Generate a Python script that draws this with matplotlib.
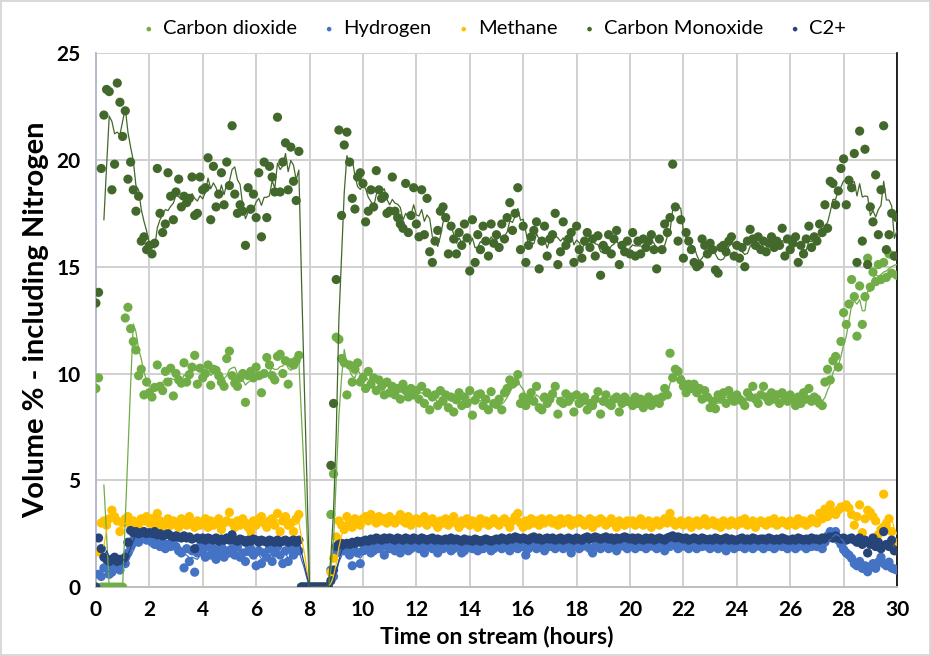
import numpy as np
import pandas as pd
import matplotlib
matplotlib.use("Agg")
import matplotlib.pyplot as plt

# sample times (hours), one reading every 0.1 h
hours = np.arange(301) / 10

# Volume % per gas, one row per hour of stream time
carbon_dioxide = [
    9.3, 9.8, 0, 0, 0, 0, 0, 0, 0, 0,
    0, 12.6, 13.1, 12.1, 11.5, 11.1, 9.9, 10.2, 9.0, 9.6,
    9.1, 8.9, 9.35, 10.4, 9.4, 9.2, 10.1, 9.6, 10.25, 8.95,
    10.0, 9.7, 9.55, 10.5, 9.6, 9.95, 10.3, 10.85, 9.5, 10.25,
    9.8, 10.0, 10.4, 9.45, 10.2, 10.15, 9.9, 9.6, 9.4, 10.7,
    11.05, 9.9, 9.55, 9.4, 9.8, 10.0, 8.65, 9.9, 10.1, 9.8,
    10.3, 9.9, 9.1, 10.0, 10.75, 10.4, 9.9, 9.7, 10.8, 10.9,
    10.0, 10.6, 9.5, 10.5, 10.4, 10.6, 10.85, 0, 0, 0,
    0, 0, 0, 0, 0, 0, 0, 0, 3.4, 5.3,
    11.7, 11.6, 10.7, 10.5, 9.0, 10.4, 9.6, 10.2, 10.5, 9.6,
    9.8, 9.3, 10.1, 9.5, 9.8, 9.2, 9.7, 9.4, 9.0, 9.6,
    9.1, 9.4, 9.0, 9.3, 8.8, 9.5, 9.2, 8.9, 9.3, 9.0,
    9.2, 8.8, 9.4, 8.6, 9.1, 8.3, 8.9, 9.0, 8.5, 9.2,
    8.7, 9.0, 8.4, 8.9, 8.2, 8.8, 9.1, 8.5, 8.9, 8.6,
    9.2, 8.05, 8.75, 9.0, 9.05, 8.5, 8.8, 8.3, 9.15, 8.6,
    8.55, 8.8, 8.3, 9.1, 9.3, 9.7, 9.5, 9.6, 9.95, 8.6,
    8.9, 8.5, 8.8, 9.1, 8.7, 9.4, 8.4, 8.3, 8.9, 8.6,
    8.8, 9.05, 9.4, 8.1, 8.7, 8.6, 9.05, 8.7, 8.9, 8.2,
    9.0, 8.6, 8.7, 8.9, 8.3, 8.6, 8.5, 8.8, 9.15, 8.1,
    8.7, 9.0, 8.6, 8.5, 8.8, 8.9, 8.2, 8.6, 8.9, 8.7,
    8.7, 8.5, 8.9, 8.6, 8.8, 8.4, 8.6, 8.9, 8.5, 8.7,
    8.8, 8.6, 8.9, 9.3, 9.0, 10.95, 9.8, 10.2, 10.1, 9.7,
    9.4, 9.1, 9.5, 9.3, 9.5, 9.1, 9.3, 8.8, 9.2, 8.9,
    8.4, 8.7, 8.35, 9.0, 8.8, 9.1, 8.6, 9.2, 8.9, 8.7,
    9.0, 8.8, 8.7, 8.5, 9.1, 8.9, 9.4, 8.8, 8.6, 9.0,
    9.4, 8.9, 8.7, 9.1, 8.8, 9.0, 8.6, 9.1, 8.9, 8.7,
    9.0, 8.8, 8.5, 8.9, 8.6, 9.1, 8.8, 9.3, 8.7, 8.9,
    8.8, 8.6, 8.5, 9.6, 10.2, 9.7, 10.6, 10.8, 10.3, 11.5,
    12.85, 12.3, 13.25, 14.4, 13.6, 11.75, 14.1, 12.3, 13.6, 15.4,
    14.05, 14.75, 14.3, 15.1, 14.4, 15.2, 14.5, 15.6, 14.7, 15.5,
    14.6,
]

hydrogen = [
    0, 0.6, 0.5, 0.9, 0.95, 0.6, 0.7, 1.0, 1.2, 0.8,
    1.3, 1.1, 1.6, 1.9, 2.2, 2.2, 2.1, 2.3, 2.4, 2.2,
    2.3, 2.1, 2.0, 2.2, 1.9, 2.1, 1.8, 2.0, 1.9, 2.1,
    1.9, 1.7, 1.6, 0.9, 1.8, 1.2, 1.7, 0.7, 1.6, 1.9,
    1.7, 1.4, 1.9, 1.5, 1.8, 1.3, 1.6, 1.9, 1.4, 1.7,
    1.6, 1.8, 1.5, 1.9, 1.4, 1.6, 1.2, 1.7, 1.8, 1.5,
    1.0, 1.7, 1.1, 1.6, 1.4, 1.8, 1.2, 1.6, 1.9, 1.5,
    1.1, 1.7, 1.2, 1.8, 1.5, 1.9, 1.7, 0, 0, 0,
    0, 0, 0, 0, 0, 0, 0, 0, 0.8, 0.5,
    1.6, 1.8, 1.9, 1.7, 1.8, 1.5, 1.0, 1.7, 1.6, 1.1,
    1.7, 1.8, 1.9, 1.6, 1.7, 2.0, 1.8, 1.9, 1.5, 1.9,
    1.8, 2.0, 1.7, 1.9, 1.6, 1.9, 2.0, 1.7, 1.8, 1.9,
    2.0, 1.8, 1.9, 1.6, 1.9, 2.0, 1.8, 1.9, 1.6, 1.9,
    1.8, 2.0, 1.9, 1.7, 1.8, 2.1, 1.9, 1.6, 1.7, 2.0,
    1.9, 1.8, 2.0, 1.7, 1.9, 1.8, 2.0, 1.9, 1.7, 1.8,
    2.0, 1.9, 1.8, 2.1, 1.9, 1.7, 2.0, 1.9, 1.8, 2.0,
    1.9, 1.5, 1.8, 2.0, 1.9, 1.8, 2.0, 1.9, 1.7, 2.0,
    1.9, 2.0, 1.8, 1.9, 2.1, 1.8, 1.9, 2.0, 1.6, 1.9,
    2.0, 1.8, 1.9, 2.1, 1.9, 1.8, 1.6, 1.9, 2.0, 1.8,
    1.9, 2.0, 1.8, 1.9, 2.0, 1.7, 1.9, 2.1, 1.9, 1.8,
    2.0, 1.9, 1.8, 2.0, 1.9, 2.1, 1.8, 1.9, 2.0, 1.9,
    1.8, 2.0, 1.9, 1.7, 2.0, 1.9, 2.1, 2.0, 1.8, 1.9,
    2.0, 1.9, 1.8, 2.0, 1.9, 1.8, 2.0, 1.9, 2.1, 1.9,
    1.8, 2.0, 1.9, 1.8, 2.0, 1.9, 1.7, 2.0, 1.9, 1.8,
    2.0, 1.9, 2.1, 1.8, 1.9, 2.0, 1.8, 1.9, 2.0, 1.9,
    1.8, 2.0, 1.9, 2.0, 1.8, 1.9, 2.1, 1.9, 2.0, 1.8,
    1.9, 2.0, 1.8, 1.9, 2.0, 1.9, 1.8, 2.0, 1.9, 2.0,
    1.9, 2.0, 1.8, 2.1, 2.4, 2.6, 2.3, 2.6, 2.2, 2.0,
    1.75, 1.6, 1.5, 1.35, 1.1, 1.0, 1.2, 0.88, 1.0, 0.72,
    0.95, 1.1, 0.88, 1.17, 1.4, 1.1, 1.0, 1.17, 0.9, 0.85,
    0.8,
]

methane = [
    0, 1.65, 3.0, 3.1, 2.9, 3.2, 3.6, 3.3, 3.1, 2.6,
    3.0, 3.2, 3.3, 2.9, 3.1, 3.0, 2.8, 3.2, 3.1, 3.3,
    3.0, 3.2, 2.9, 3.45, 3.1, 2.8, 3.0, 3.2, 2.9, 3.1,
    3.0, 2.8, 3.2, 3.1, 2.9, 3.3, 3.0, 2.8, 3.1, 2.9,
    3.0, 3.2, 2.8, 3.1, 2.9, 3.0, 3.2, 2.7, 3.0, 3.1,
    3.5, 3.0, 2.8, 3.1, 2.9, 3.2, 3.0, 2.8, 2.6, 3.1,
    2.9, 3.2, 3.3, 3.0, 2.8, 3.1, 3.2, 2.9, 3.45, 2.6,
    3.1, 3.3, 2.9, 3.0, 2.6, 3.2, 3.4, 0, 0, 0,
    0, 0, 0, 0, 0, 0, 0, 0, 0.7, 1.35,
    2.35, 3.1, 2.9, 2.7, 3.3, 3.0, 2.8, 3.2, 3.0, 2.9,
    3.2, 3.3, 3.1, 3.4, 3.2, 3.0, 3.3, 3.1, 3.2, 3.0,
    3.3, 3.1, 3.0, 3.2, 3.4, 3.1, 3.0, 3.3, 2.9, 3.1,
    3.2, 3.0, 3.1, 3.3, 2.9, 3.1, 3.2, 3.0, 2.8, 3.1,
    3.0, 3.2, 2.9, 3.1, 3.3, 3.0, 2.8, 3.1, 3.0, 3.2,
    2.9, 3.1, 3.0, 2.8, 3.2, 3.0, 3.1, 2.9, 3.0, 3.2,
    3.0, 2.9, 3.1, 3.2, 3.0, 2.8, 3.1, 3.3, 3.45, 3.0,
    2.8, 3.1, 2.9, 3.2, 3.0, 3.1, 2.9, 3.2, 3.0, 3.1,
    3.2, 3.0, 3.1, 2.9, 3.2, 3.0, 3.1, 3.2, 2.9, 3.1,
    3.0, 3.2, 3.1, 2.9, 3.0, 3.2, 2.8, 3.1, 3.0, 3.2,
    3.1, 2.9, 3.0, 3.2, 3.0, 2.8, 3.1, 3.0, 2.9, 3.1,
    3.0, 3.1, 2.9, 3.0, 3.2, 2.9, 3.0, 3.1, 2.8, 3.0,
    3.1, 2.9, 3.0, 3.2, 3.0, 3.45, 3.1, 2.9, 3.0, 3.1,
    2.9, 3.0, 3.1, 2.8, 3.0, 3.1, 2.9, 3.0, 3.2, 2.9,
    3.0, 3.1, 2.9, 3.0, 2.8, 3.1, 3.0, 2.9, 3.1, 3.0,
    2.9, 3.1, 3.0, 3.2, 2.9, 3.0, 3.1, 2.8, 3.0, 3.1,
    3.0, 2.9, 3.1, 3.0, 3.2, 2.9, 3.0, 3.1, 3.0, 2.9,
    3.1, 3.0, 2.9, 3.2, 3.0, 3.1, 2.9, 3.0, 3.2, 3.1,
    3.0, 3.45, 3.2, 3.65, 3.3, 3.85, 3.5, 3.4, 3.6, 3.75,
    3.75, 3.85, 3.7, 3.4, 2.9, 3.3, 3.85, 2.55, 3.2, 3.6,
    3.5, 3.3, 3.1, 2.45, 2.7, 4.35, 2.9, 3.2, 2.6, 2.1,
    2.0,
]

carbon_monoxide = [
    13.3, 13.8, 19.6, 22.1, 23.3, 23.2, 18.6, 19.8, 23.6, 22.7,
    21.1, 22.3, 19.1, 19.9, 18.6, 17.6, 18.3, 16.2, 16.4, 15.8,
    16.0, 15.6, 16.1, 19.6, 17.5, 16.6, 17.0, 19.4, 18.3, 17.2,
    18.5, 19.1, 17.8, 18.3, 18.0, 18.2, 19.2, 17.4, 17.5, 19.2,
    18.6, 18.7, 20.1, 17.2, 19.7, 17.8, 18.4, 19.4, 17.9, 19.9,
    18.8, 21.6, 18.4, 17.5, 17.9, 17.6, 16.0, 18.7, 17.7, 18.4,
    17.3, 19.4, 16.4, 19.9, 17.3, 19.7, 19.2, 18.5, 22.0, 18.5,
    19.9, 20.8, 18.6, 20.6, 19.0, 18.1, 20.4, 0, 0, 0,
    0, 0, 0, 0, 0, 0, 0, 0, 5.7, 8.6,
    14.4, 21.4, 17.4, 20.7, 21.3, 19.9, 18.2, 17.7, 19.2, 19.4,
    18.9, 17.1, 17.6, 18.6, 17.8, 19.5, 18.6, 18.2, 18.3, 17.5,
    17.6, 19.2, 17.6, 17.3, 17.0, 16.8, 18.9, 16.6, 17.4, 18.7,
    17.0, 16.4, 18.6, 16.5, 18.2, 15.7, 15.2, 16.2, 16.7, 17.6,
    17.8, 17.3, 15.6, 16.9, 16.3, 15.6, 16.6, 16.0, 17.0, 16.35,
    14.8, 17.2, 15.2, 16.5, 15.8, 16.9, 16.2, 15.5, 17.0, 16.1,
    16.5, 15.9, 17.0, 16.3, 17.3, 18.0, 16.7, 17.5, 18.7, 15.8,
    16.9, 15.2, 16.0, 16.4, 16.7, 17.1, 14.9, 16.2, 16.9, 15.5,
    16.3, 16.5, 17.5, 15.1, 15.7, 17.1, 16.0, 16.3, 16.6, 15.2,
    16.9, 15.8, 15.4, 16.2, 16.6, 15.9, 16.3, 15.5, 16.45, 14.6,
    16.0, 15.8, 16.5, 15.6, 16.3, 16.7, 15.1, 16.0, 15.7, 16.2,
    15.6, 16.6, 15.5, 16.2, 15.6, 16.3, 15.9, 16.2, 16.5, 15.8,
    14.9, 16.3, 15.8, 17.0, 16.6, 17.3, 19.8, 17.8, 16.2, 17.2,
    15.4, 16.6, 16.2, 15.8, 15.2, 15.0, 15.1, 16.3, 16.0, 15.6,
    16.1, 15.8, 14.85, 14.7, 15.9, 16.0, 15.7, 16.2, 16.4, 15.5,
    16.0, 15.4, 15.9, 15.0, 16.2, 16.75, 16.3, 16.0, 16.4, 15.8,
    16.2, 15.7, 16.1, 16.4, 15.9, 16.2, 16.0, 16.8, 15.5, 16.3,
    15.8, 16.1, 16.4, 15.2, 16.0, 15.6, 16.3, 16.9, 15.9, 16.4,
    16.2, 17.0, 16.6, 17.9, 16.8, 19.0, 18.9, 17.9, 18.55, 19.6,
    20.05, 17.9, 19.05, 18.7, 20.3, 15.2, 21.35, 16.2, 20.5, 15.1,
    17.8, 17.1, 19.3, 16.5, 18.6, 21.6, 15.8, 16.5, 17.5, 15.5,
    17.3,
]

c2_plus = [
    0, 2.3, 1.8, 1.4, 1.3, 1.2, 1.3, 1.4, 1.2, 1.3,
    1.2, 1.4, 2.1, 2.65, 2.55, 2.6, 2.5, 2.55, 2.6, 2.5,
    2.55, 2.5, 2.6, 2.45, 2.5, 2.4, 2.45, 2.5, 2.4, 2.35,
    2.4, 2.35, 2.3, 2.4, 2.3, 2.35, 2.25, 1.8, 2.3, 2.25,
    2.3, 2.2, 2.3, 2.25, 2.2, 2.3, 2.15, 2.25, 2.2, 2.3,
    2.2, 2.45, 2.2, 2.15, 2.25, 2.2, 2.1, 2.2, 2.15, 2.25,
    2.2, 2.1, 2.2, 2.15, 2.1, 2.2, 2.15, 2.1, 2.2, 2.1,
    2.15, 2.2, 2.1, 2.15, 2.2, 2.1, 2.2, 0, 0, 0,
    0, 0, 0, 0, 0, 0, 0, 0, 0.3, 0.8,
    1.9, 2.0, 2.05, 1.95, 2.05, 2.0, 2.1, 2.05, 2.15, 2.1,
    2.15, 2.2, 2.15, 2.25, 2.2, 2.3, 2.25, 2.2, 2.3, 2.25,
    2.3, 2.25, 2.2, 2.3, 2.25, 2.2, 2.3, 2.25, 2.2, 2.3,
    2.25, 2.2, 2.3, 2.25, 2.2, 2.25, 2.3, 2.2, 2.25, 2.2,
    2.2, 2.25, 2.2, 2.3, 2.2, 2.25, 2.2, 2.15, 2.25, 2.2,
    2.2, 2.15, 2.25, 2.2, 2.15, 2.2, 2.25, 2.2, 2.15, 2.2,
    2.25, 2.2, 2.3, 2.25, 2.2, 2.3, 2.25, 2.35, 2.3, 2.25,
    2.3, 2.25, 2.2, 2.3, 2.35, 2.25, 2.3, 2.2, 2.25, 2.3,
    2.25, 2.3, 2.2, 2.25, 2.3, 2.2, 2.25, 2.3, 2.25, 2.2,
    2.3, 2.25, 2.2, 2.3, 2.35, 2.25, 2.3, 2.35, 2.3, 2.25,
    2.3, 2.35, 2.25, 2.3, 2.2, 2.3, 2.25, 2.3, 2.35, 2.3,
    2.25, 2.3, 2.2, 2.3, 2.25, 2.2, 2.3, 2.25, 2.3, 2.2,
    2.25, 2.3, 2.25, 2.2, 2.3, 2.35, 2.4, 2.3, 2.35, 2.3,
    2.25, 2.3, 2.2, 2.25, 2.3, 2.25, 2.2, 2.3, 2.25, 2.2,
    2.25, 2.2, 2.3, 2.25, 2.2, 2.25, 2.3, 2.2, 2.25, 2.2,
    2.2, 2.25, 2.3, 2.2, 2.25, 2.2, 2.3, 2.25, 2.2, 2.25,
    2.25, 2.2, 2.3, 2.25, 2.2, 2.25, 2.2, 2.3, 2.25, 2.2,
    2.2, 2.25, 2.2, 2.3, 2.25, 2.2, 2.25, 2.2, 2.3, 2.25,
    2.25, 2.2, 2.3, 2.25, 2.3, 2.35, 2.3, 2.4, 2.3, 2.25,
    2.3, 2.2, 2.25, 2.3, 2.2, 2.1, 2.3, 2.0, 2.2, 1.6,
    2.0, 2.3, 1.9, 2.1, 1.8, 2.6, 2.0, 1.9, 2.2, 1.7,
    1.7,
]

series_names = ["Carbon dioxide", "Hydrogen", "Methane", "Carbon Monoxide", "C2+"]
series_colors = ["#70AD47", "#4472C4", "#FFC000", "#43682B", "#264478"]
x_ticks = [0, 2, 4, 6, 8, 10, 12, 14, 16, 18, 20, 22, 24, 26, 28, 30]
y_ticks = [0, 5, 10, 15, 20, 25]

plt.rcParams['font.family'] = ['Lato', 'DejaVu Sans']

df = pd.DataFrame({
    "hours": hours,
    "Carbon dioxide": carbon_dioxide,
    "Hydrogen": hydrogen,
    "Methane": methane,
    "Carbon Monoxide": carbon_monoxide,
    "C2+": c2_plus,
})

fig = plt.figure(figsize=(9.31, 6.56), dpi=100)
fig.patch.set_edgecolor('#D9D9D9')
fig.patch.set_linewidth(1.5)
ax = fig.add_axes([0.103, 0.105, 0.8605, 0.814])

# scatter points
for name, color in zip(series_names, series_colors):
    ax.scatter(df["hours"], df[name], s=44, color=color, edgecolors='none',
               label=name, zorder=3)

# moving-average trendlines on top
for name, color in zip(series_names, series_colors):
    trend = df[name].rolling(4).mean()
    ax.plot(df["hours"], trend, color=color, linewidth=0.9, zorder=4)

ax.set_xlim(0, 30)
ax.set_ylim(0, 25)
ax.set_xticks(x_ticks)
ax.set_yticks(y_ticks)
ax.tick_params(length=0, labelsize=15)
ax.tick_params(axis='x', pad=9)
ax.tick_params(axis='y', pad=11)
for lbl in ax.get_xticklabels() + ax.get_yticklabels():
    lbl.set_fontweight('bold')

ax.grid(True, color='#D0D0D0', linewidth=1.4, zorder=0)
ax.set_axisbelow(True)
ax.spines['top'].set_visible(False)
ax.spines['left'].set_color('#B4BCCB')
ax.spines['bottom'].set_color('#BFBFBF')
ax.spines['left'].set_linewidth(1.4)
ax.spines['bottom'].set_linewidth(1.4)
ax.spines['right'].set_color('#000000')
ax.spines['right'].set_linewidth(1.2)

ax.set_xlabel("Time on stream (hours)", fontsize=16.5, fontweight='bold', labelpad=4)
ax.set_ylabel("Volume % - including Nitrogen", fontsize=21, fontweight='bold', labelpad=5)

fig.legend(loc='center', bbox_to_anchor=(0.53, 0.956), ncol=5, frameon=False,
           fontsize=14.5, markerscale=0.5, handlelength=0.8, handletextpad=0.3,
           columnspacing=1.2)

fig.savefig("out.png", dpi=100)
